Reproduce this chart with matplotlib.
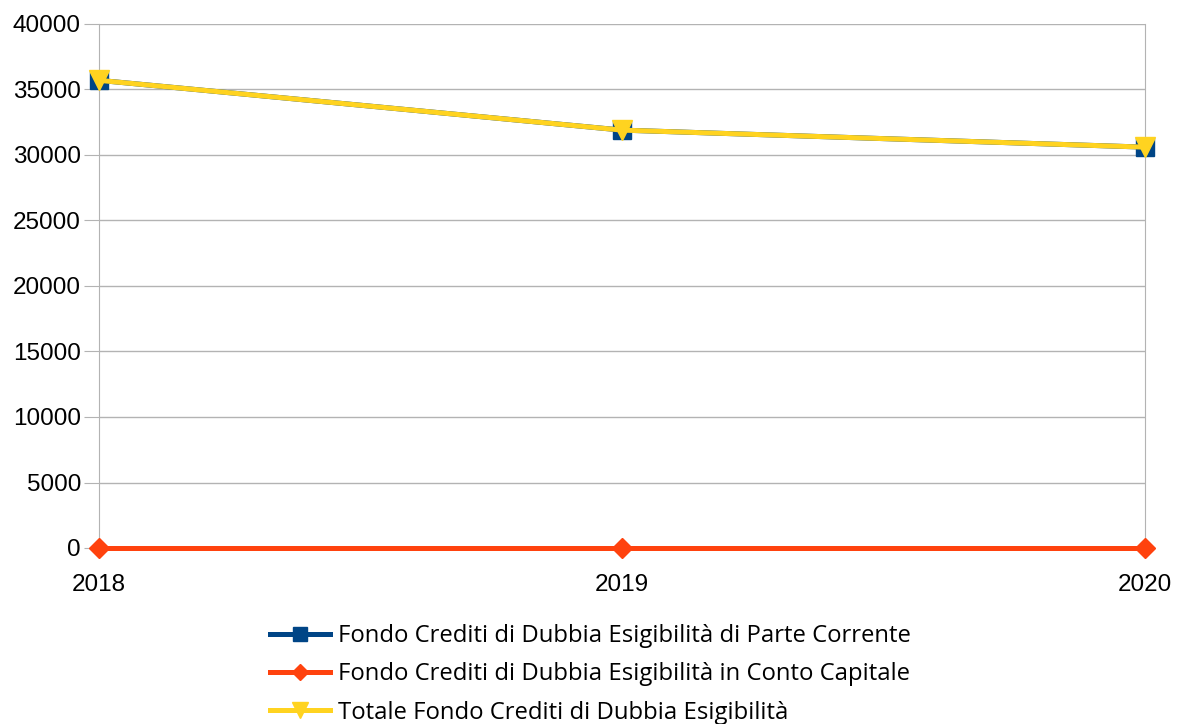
import matplotlib
matplotlib.use('Agg')
import matplotlib.pyplot as plt

years = ['2018', '2019', '2020']
parte_corrente = [35700, 31900, 30600]
conto_capitale = [0, 0, 0]
totale = [35700, 31900, 30600]

labels = ['Fondo Crediti di Dubbia Esigibilità di Parte Corrente',
          'Fondo Crediti di Dubbia Esigibilità in Conto Capitale',
          'Totale Fondo Crediti di Dubbia Esigibilità']

fig = plt.figure(figsize=(11.77, 7.24), dpi=100)
ax = fig.add_axes([99/1177, 1 - 548/724, (1145-99)/1177, (548-24)/724])

x = range(len(years))
ax.plot(x, parte_corrente, color='#004586', lw=3.6, marker='s', ms=13, label=labels[0], clip_on=False, zorder=3)
ax.plot(x, conto_capitale, color='#ff420e', lw=3.6, marker='D', ms=10, label=labels[1], clip_on=False, zorder=4)
ax.plot(x, totale, color='#ffd320', lw=3.6, marker='v', ms=15, label=labels[2], clip_on=False, zorder=5)

ax.set_xlim(0, 2)
ax.set_ylim(0, 40000)
ax.set_yticks(range(0, 40001, 5000))
ax.set_xticks(list(x))
ax.set_xticklabels(years)
ax.grid(axis='y', color='#b3b3b3', lw=1)
ax.set_axisbelow(True)
for s in ['top', 'bottom']:
    ax.spines[s].set_visible(False)
for s in ['left', 'right']:
    ax.spines[s].set_color('#b3b3b3')
ax.tick_params(axis='y', length=11, color='#b3b3b3', labelsize=17.5, pad=2)
ax.tick_params(axis='x', length=0, labelsize=17.5, pad=19)
for t in ax.get_xticklabels() + ax.get_yticklabels():
    t.set_fontfamily('Liberation Sans')

leg = fig.legend(loc='upper left', bbox_to_anchor=(270/1177, 1 - 624/724), frameon=False,
                 prop={'family': 'Open Sans', 'size': 17.2}, handlelength=2.5, labelspacing=0.6,
                 handletextpad=0.35, borderaxespad=0, borderpad=0)
for h in leg.legend_handles:
    h.set_markersize(h.get_markersize() * 0.8)

fig.savefig('out.png', dpi=100)
